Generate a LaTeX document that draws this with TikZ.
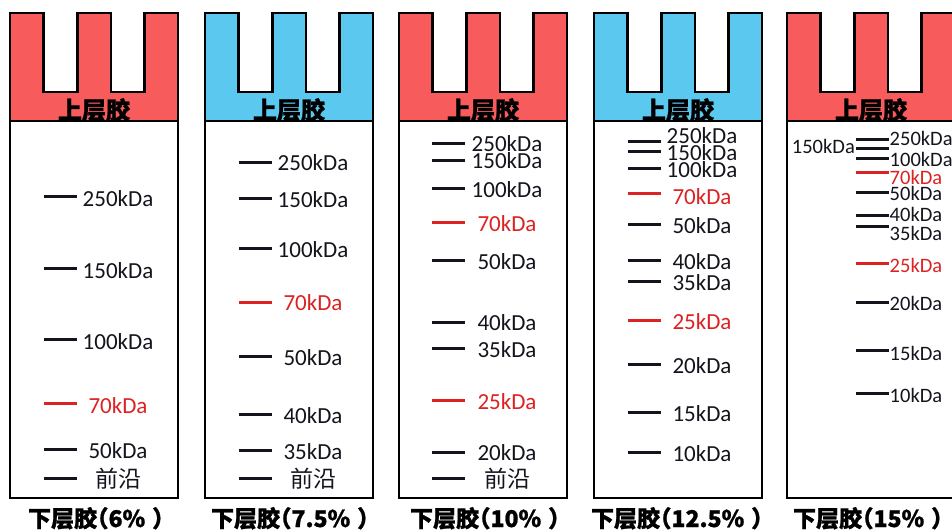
\documentclass[tikz,border=0pt]{standalone}
\usepackage{fontspec}
\setmainfont{Carlito}
\newfontfamily\cjk{Noto Sans CJK SC}
\newfontfamily\cjkh{Noto Sans CJK SC}[BoldFeatures={FakeBold=1}]
\definecolor{gelred}{RGB}{247,91,91}
\definecolor{gelblue}{RGB}{91,200,240}
\definecolor{bandred}{RGB}{220,34,34}
\definecolor{ink}{RGB}{20,20,28}
\newcommand\drawgel[3]{%
  \begin{scope}[xshift=#1pt]
    \draw[gelline, fill=#2] (0,13) -- (33.6,13) -- (33.6,92) -- (67.2,92) -- (67.2,13)
      -- (100.8,13) -- (100.8,92) -- (134.4,92) -- (134.4,13) -- (168,13)
      -- (168,121) -- (0,121) -- cycle;
    \node[uppertxt] (#3up) at (84,119) {上层胶};
    \draw[gelline, fill=white] (0,121) rectangle (168,498);
  \end{scope}}
\begin{document}
\begin{tikzpicture}[x=1pt,y=-1pt,
  gelline/.style={line width=2.6pt, line join=miter, draw=black},
  band/.style={line width=3pt},
  uppertxt/.style={anchor=base, inner sep=0pt, font=\cjkh\bfseries\fontsize{24}{24}\selectfont, text=black},
  lab/.style={inner sep=0pt, font=\fontsize{23}{23}\selectfont},
  labf/.style={inner sep=0pt, font=\fontsize{20.5}{20.5}\selectfont},
  captxt/.style={anchor=base, inner sep=0pt, font=\cjkh\bfseries\fontsize{23}{23}\selectfont, text=black}]
\useasboundingbox (0,0) rectangle (952,532);
\clip (0,0) rectangle (952,532);
\fill[white] (0,0) rectangle (952,532);

\drawgel{10}{gelred}{g1}
\drawgel{205}{gelblue}{g2}
\drawgel{399}{gelred}{g3}
\drawgel{594}{gelblue}{g4}
\drawgel{787}{gelred}{g5}

% gel 1
\foreach \y/\ly/\t/\c/\n in {196/199/250kDa/ink/a, 268/271/150kDa/ink/b, 339/342/100kDa/ink/c,
  403/406/70kDa/bandred/d, 449/451/50kDa/ink/e, 478/479/{\cjk 前沿}/ink/f}{
  \draw[band, draw=\c] (43.5,\y) -- (77,\y);
  \node[lab, text=\c] (g1\n) at (118,\ly) {\t};
}
% gel 2
\foreach \y/\ly/\t/\c/\n in {162/163/250kDa/ink/a, 198/200/150kDa/ink/b, 248/250/100kDa/ink/c,
  302/303/70kDa/bandred/d, 356/358/50kDa/ink/e, 414/416/40kDa/ink/f, 450/452/35kDa/ink/g,
  478/479/{\cjk 前沿}/ink/h}{
  \draw[band, draw=\c] (239,\y) -- (272,\y);
  \node[lab, text=\c] (g2\n) at (313,\ly) {\t};
}
% gel 3
\foreach \y/\ly/\t/\c/\n in {143/144/250kDa/ink/a, 160/161/150kDa/ink/b, 188/190/100kDa/ink/c,
  222/224/70kDa/bandred/d, 260/262/50kDa/ink/e, 322/323/40kDa/ink/f, 348/350/35kDa/ink/g,
  400/402/25kDa/bandred/h, 452/453/20kDa/ink/i, 478/479/{\cjk 前沿}/ink/j}{
  \draw[band, draw=\c] (432,\y) -- (465,\y);
  \node[lab, text=\c] (g3\n) at (507,\ly) {\t};
}
% gel 4
\foreach \y/\ly/\t/\c/\n in {141/136/250kDa/ink/a, 151/153/150kDa/ink/b, 168/170/100kDa/ink/c,
  193/197/70kDa/bandred/d, 224/226/50kDa/ink/e, 260/262/40kDa/ink/f, 281/283/35kDa/ink/g,
  320/322/25kDa/bandred/h, 364/366/20kDa/ink/i, 412/414/15kDa/ink/j, 452/454/10kDa/ink/k}{
  \draw[band, draw=\c] (628,\y) -- (661,\y);
  \node[lab, text=\c] (g4\n) at (702,\ly) {\t};
}
% gel 5
\foreach \y/\ly/\t/\c/\n in {139/138/250kDa/ink/a, 158/159/100kDa/ink/c,
  172/177/70kDa/bandred/d, 192/193/50kDa/ink/e, 215/214/40kDa/ink/f, 226/233/35kDa/ink/g,
  263/265/25kDa/bandred/h, 302/303/20kDa/ink/i, 350/353/15kDa/ink/j, 393/395/10kDa/ink/k}{
  \draw[band, draw=\c] (856,\y) -- (889,\y);
  \node[labf, text=\c, anchor=west] (g5\n) at (889.5,\ly) {\t};
}
\draw[band, draw=ink] (856,148) -- (889,148);
\node[labf, text=ink, anchor=east] (g5b) at (855,146) {150kDa};

% captions
\node[captxt] (c1) at (97,527) {下层胶\kern-.5em（6\%\kern.3em）\kern-.4em};
\node[captxt] (c2) at (291,527) {下层胶\kern-.5em（7.5\%\kern.3em）\kern-.4em};
\node[captxt] (c3) at (486,527) {下层胶\kern-.5em（10\%\kern.3em）\kern-.4em};
\node[captxt] (c4) at (678,527) {下层胶\kern-.5em（12.5\%\kern.3em）\kern-.4em};
\node[captxt] (c5) at (869,527) {下层胶\kern-.5em（15\%\kern.3em）\kern-.4em};
\end{tikzpicture}
\end{document}
